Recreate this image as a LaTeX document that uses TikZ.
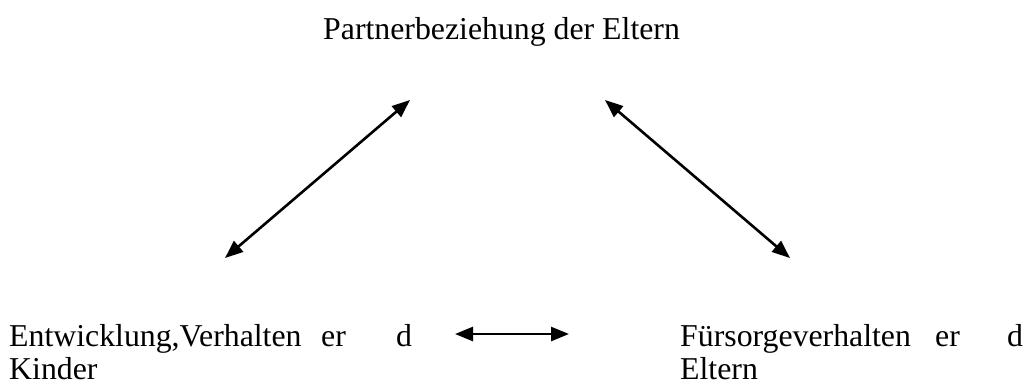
\documentclass[tikz,border=0pt]{standalone}
\usepackage{fontspec}
\setmainfont{Liberation Serif}
\usetikzlibrary{arrows.meta}
\begin{document}
\begin{tikzpicture}[x=1pt,y=-1pt,
  lbl/.style={inner sep=0pt,anchor=base west,font=\fontsize{31.8}{35}\selectfont},
  link/.style={line width=2.6pt,{Triangle[length=18pt,width=14pt]}-{Triangle[length=18pt,width=14pt]}}]
  \useasboundingbox (0,0) rectangle (1033,384);
  % top label
  \node[lbl] (top) at (323,39) {Partnerbeziehung der Eltern};
  % left label
  \node[lbl] (l1) at (9,346) {Entwicklung,Verhalten};
  \node[lbl] (l2) at (321,346) {er};
  \node[lbl] (l3) at (396,346) {d};
  \node[lbl] (l4) at (9,379) {Kinder};
  % right label
  \node[lbl] (r1) at (680,346) {Fürsorgeverhalten};
  \node[lbl] (r2) at (935,346) {er};
  \node[lbl] (r3) at (1007,346) {d};
  \node[lbl] (r4) at (680,379) {Eltern};
  % arrow end points
  \coordinate (a1) at (410,100);
  \coordinate (a2) at (225,258);
  \coordinate (b1) at (605,100);
  \coordinate (b2) at (790,258);
  \coordinate (c1) at (455,334);
  \coordinate (c2) at (569,334);
  \draw[link] (a2) -- (a1);
  \draw[link] (b1) -- (b2);
  \draw[link] (c1) -- (c2);
\end{tikzpicture}
\end{document}
